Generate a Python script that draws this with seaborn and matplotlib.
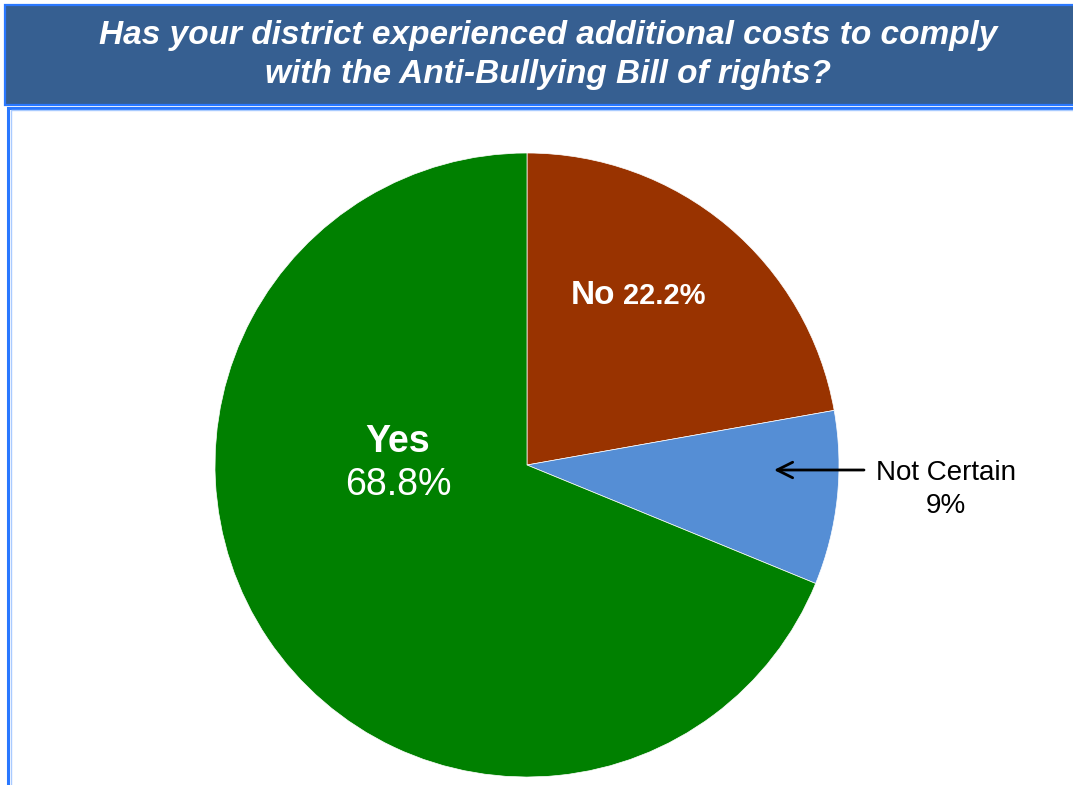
import matplotlib
matplotlib.use("Agg")
import matplotlib.pyplot as plt
from matplotlib.patches import Rectangle
import seaborn as sns

# Survey responses
categories = ["No", "Not Certain", "Yes"]
shares = [22.2, 9.0, 68.8]
share_labels = ["22.2%", "9%", "68.8%"]
slice_colors = ["#993300", "#558ED5", "#008000"]
title_text = ("Has your district experienced additional costs to comply\n"
              "with the Anti-Bullying Bill of rights?")

sns.set_theme(style="white")
plt.rcParams["font.family"] = ["Liberation Sans", "DejaVu Sans"]

W, H = 1073, 785
fig = plt.figure(figsize=(W / 100, H / 100), dpi=100)
fig.patch.set_facecolor("white")


def fx(px):
    return px / W


def fy(py):
    return 1 - py / H


# Title banner
banner = Rectangle((fx(5), fy(105)), fx(1080) - fx(5), fy(5) - fy(105),
                   transform=fig.transFigure, facecolor="#365F91",
                   edgecolor="#2A78FF", linewidth=1.6, zorder=-3)
fig.patches.append(banner)

# Chart panel frame
panel = Rectangle((fx(8), fy(800)), fx(1090) - fx(8), fy(107.5) - fy(800),
                  transform=fig.transFigure, facecolor="white",
                  edgecolor="#2A78FF", linewidth=2.2, zorder=-3)
fig.patches.append(panel)
panel_inner = Rectangle((fx(10.5), fy(800)), fx(1090) - fx(10.5), fy(110) - fy(800),
                        transform=fig.transFigure, facecolor="none",
                        edgecolor="#A9CBFF", linewidth=1.0, zorder=-2)
fig.patches.append(panel_inner)

fig.text(fx(548), fy(55), title_text, ha="center", va="center",
         color="white", fontsize=24, fontweight="bold", fontstyle="italic",
         linespacing=1.3)

# Pie axes: centre (527, 465) px, radius 312 px
cx, cy, r = 527, 465, 312
ax = fig.add_axes([fx(cx - r), fy(cy + r), 2 * r / W, 2 * r / H])
ax.set_zorder(2)
ax.patch.set_alpha(0)
ax.pie(shares, colors=slice_colors, startangle=90, counterclock=False,
       radius=1.0, wedgeprops=dict(linewidth=0.5, edgecolor="white"))
ax.set_xlim(-1, 1)
ax.set_ylim(-1, 1)
ax.set_aspect("equal")
ax.axis("off")


def dx(px):
    return (px - cx) / r


def dy(py):
    return (cy - py) / r


# Slice labels
ax.text(dx(398), dy(452), categories[2], ha="center", va="baseline",
        color="white", fontsize=27, fontweight="bold")
ax.text(dx(398), dy(495), share_labels[2], ha="center", va="baseline",
        color="white", fontsize=27)

ax.text(dx(615), dy(304), categories[0], ha="right", va="baseline",
        color="white", fontsize=24, fontweight="bold")
ax.text(dx(623), dy(304), share_labels[0], ha="left", va="baseline",
        color="white", fontsize=21, fontweight="bold")

ax.text(dx(946), dy(480), categories[1], ha="center", va="baseline",
        color="black", fontsize=20)
ax.text(dx(946), dy(513), share_labels[1], ha="center", va="baseline",
        color="black", fontsize=20)

ax.annotate("", xy=(dx(774), dy(470)), xytext=(dx(864), dy(470)),
            arrowprops=dict(arrowstyle="->", color="black", lw=2,
                            mutation_scale=28, shrinkA=0, shrinkB=0))

fig.savefig("out.png", dpi=100, facecolor=fig.get_facecolor())
